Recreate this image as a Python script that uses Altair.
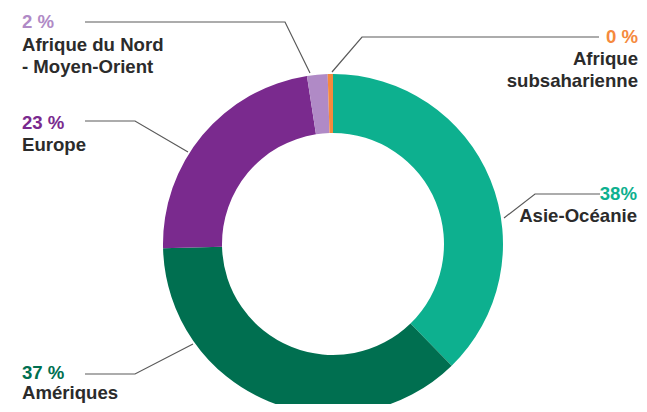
import altair as alt
import pandas as pd

# ---- data ----
categories = ["Asie-Océanie", "Amériques", "Europe", "Afrique du Nord - Moyen-Orient", "Afrique subsaharienne"]
values = [37.7, 36.9, 22.95, 1.95, 0.5]
pct_labels = ["38%", "37 %", "23 %", "2 %", "0 %"]
name_lines = [["Asie-Océanie"], ["Amériques"], ["Europe"], ["Afrique du Nord", "- Moyen-Orient"], ["Afrique", "subsaharienne"]]
colors = ["#0DB08F", "#006F50", "#7A2A8E", "#B08AC6", "#F5893D"]

# ---- layout (page pixels, converted to chart pixels below) ----
M = 8
center = (333, 244)
R_out, R_in = 170, 111
text_anchor = {  # x, align, pct baseline, first name baseline
    "Asie-Océanie": (637, "right", 200, 222),
    "Amériques": (22, "left", 379, 399),
    "Europe": (22, "left", 129, 151),
    "Afrique du Nord - Moyen-Orient": (22, "left", 28, 51),
    "Afrique subsaharienne": (638, "right", 43, 65),
}
leaders = {
    "Asie-Océanie": [(600, 194), (535, 194), (504, 218)],
    "Amériques": [(85, 374), (135, 374), (193, 344)],
    "Europe": [(85, 121), (135, 121), (188, 152)],
    "Afrique du Nord - Moyen-Orient": [(85, 22), (285, 22), (310, 73)],
    "Afrique subsaharienne": [(599, 37), (362, 37), (332, 72)],
}
line_step = 22

arc_df = pd.DataFrame({"cat": categories, "value": values, "idx": range(len(categories))})

txt_rows = []
for cat, pct, lines, col in zip(categories, pct_labels, name_lines, colors):
    x, align, yb, yn = text_anchor[cat]
    txt_rows.append({"x": x - M, "y": yb - M, "text": pct, "color": col, "align": align})
    for k, ln in enumerate(lines):
        txt_rows.append({"x": x - M, "y": yn + k * line_step - M, "text": ln, "color": "#2B2B2B", "align": align})
txt_df = pd.DataFrame(txt_rows)

line_rows = []
for cat in categories:
    for i, (px, py) in enumerate(leaders[cat]):
        line_rows.append({"key": cat, "i": i, "x": px - M, "y": py - M})
line_df = pd.DataFrame(line_rows)

donut = alt.Chart(arc_df).mark_arc(outerRadius=R_out, innerRadius=R_in, strokeWidth=0).encode(
    theta=alt.Theta("value:Q", stack=True),
    color=alt.Color("cat:N", scale=alt.Scale(domain=categories, range=colors), legend=None),
    order=alt.Order("idx:Q"),
    x=alt.value(center[0] - M),
    y=alt.value(center[1] - M),
)

lines = alt.Chart(line_df).mark_line(color="#5A5A5A", strokeWidth=1.2).encode(
    x=alt.X("x:Q", scale=None, axis=None),
    y=alt.Y("y:Q", scale=None, axis=None),
    detail="key:N",
    order="i:Q",
)

def text_layer(align):
    d = txt_df[txt_df["align"] == align]
    return alt.Chart(d).mark_text(
        align=align, baseline="alphabetic", font="Liberation Sans", fontSize=18.6, fontWeight="bold"
    ).encode(
        x=alt.X("x:Q", scale=None, axis=None),
        y=alt.Y("y:Q", scale=None, axis=None),
        text="text:N",
        color=alt.Color("color:N", scale=None),
    )

chart = alt.layer(donut, lines, text_layer("left"), text_layer("right")).properties(
    width=631, height=396, autosize=alt.AutoSizeParams(type="none"), padding=0
).configure(background="white").configure_view(strokeWidth=0)

chart.save("out.html", embed_options={"renderer": "svg", "actions": False})
